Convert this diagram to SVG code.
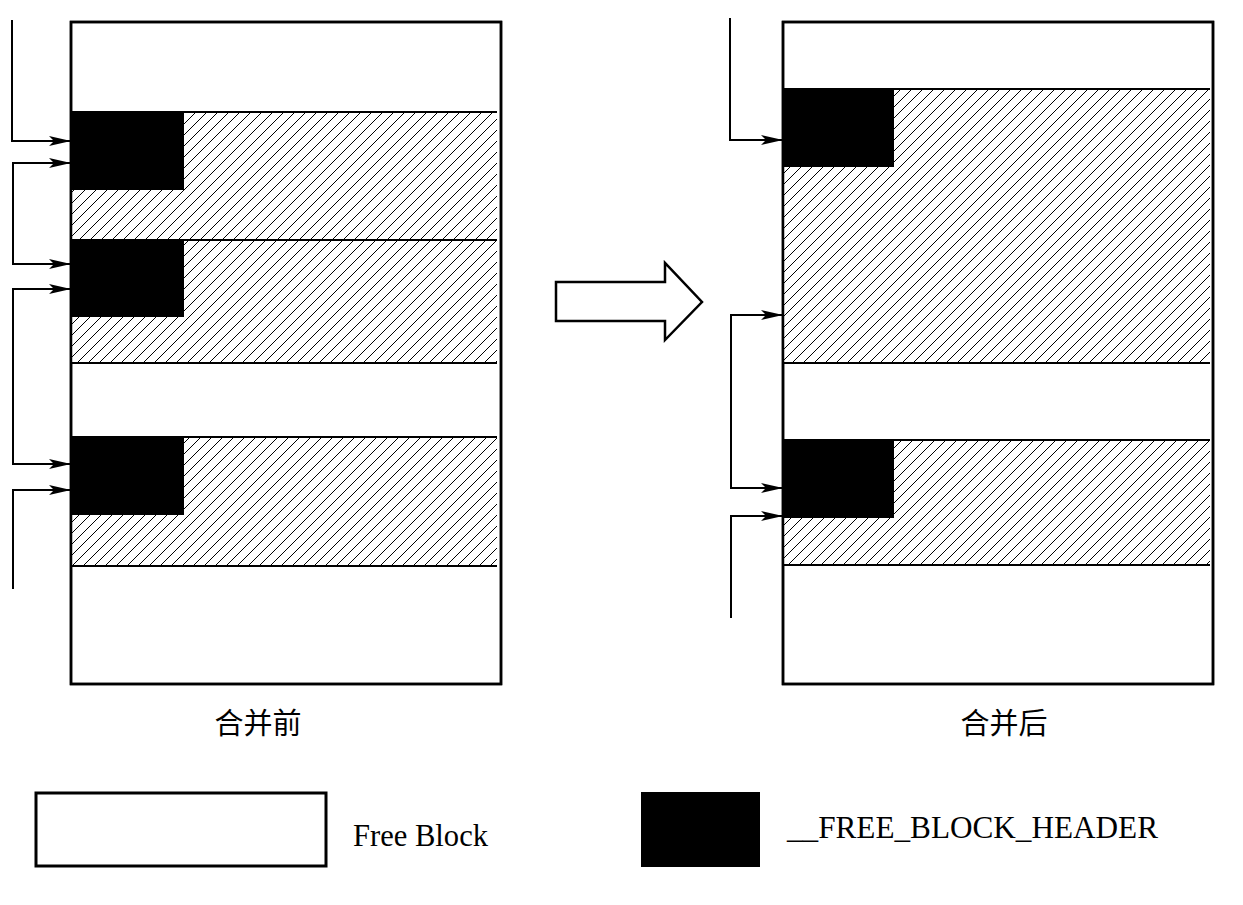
<svg xmlns="http://www.w3.org/2000/svg" width="1243" height="905" viewBox="0 0 1243 905">
<style>
.box{fill:#fff;stroke:#000;stroke-width:2.5}
.frame{fill:none;stroke:#000;stroke-width:2.5}
.hatch{fill:url(#hatch);stroke:none}
.sep{stroke:#000;stroke-width:2;fill:none}
.hdr{fill:#000}
.conn{fill:none;stroke:#000;stroke-width:2;stroke-linejoin:miter}
.cap{font-family:"Liberation Serif","Noto Sans CJK SC",serif;font-size:29px;fill:#000}
.lbl{font-family:"Liberation Serif","Noto Sans CJK SC",serif;font-size:31px;fill:#000}
</style>
<defs>
<pattern id="hatch" patternUnits="userSpaceOnUse" width="11" height="11">
<rect width="11" height="11" fill="#fff"/>
<path d="M-1,12 L12,-1 M-6,6 L6,-6 M5,17 L17,5" stroke="#000" stroke-width="1"/>
</pattern>
<marker id="ah" viewBox="0 0 22 10" refX="22" refY="5" markerWidth="22" markerHeight="10" markerUnits="userSpaceOnUse" orient="auto-start-reverse">
<path d="M0,0 L22,5 L0,10 L5,5 z" fill="#000"/>
</marker>
</defs>
<rect width="1243" height="905" fill="#fff"/>

<g id="before">
<rect class="box" x="71" y="22" width="430" height="662"/>
<rect class="hatch" x="72" y="112" width="425" height="251"/>
<rect class="hatch" x="72" y="437" width="425" height="129"/>
<g id="before-headers">
<rect class="hdr" x="71" y="112" width="113" height="78"/>
<rect class="hdr" x="71" y="240" width="113" height="77"/>
<rect class="hdr" x="71" y="437" width="113" height="78"/>
</g>
<path class="sep" d="M71,112 H497 M71,240 H497 M71,363 H497 M71,437 H497 M71,566 H497"/>
<rect class="frame" x="71" y="22" width="430" height="662"/>
<text class="cap" x="258" y="734" text-anchor="middle">合并前</text>
</g>

<g id="after">
<rect class="box" x="783" y="22" width="430" height="662"/>
<rect class="hatch" x="784" y="89" width="426" height="274"/>
<rect class="hatch" x="784" y="440" width="426" height="125"/>
<g id="after-headers">
<rect class="hdr" x="783" y="89" width="111" height="78"/>
<rect class="hdr" x="783" y="440" width="111" height="78"/>
</g>
<path class="sep" d="M783,89 H1210 M783,363 H1210 M783,440 H1210 M783,565 H1210"/>
<rect class="frame" x="783" y="22" width="430" height="662"/>
<text class="cap" x="1004" y="734" text-anchor="middle">合并后</text>
</g>

<g id="big-arrow">
<polygon points="556,282 665,282 665,263 702,302 665,340 665,321 556,321" fill="#fff" stroke="#000" stroke-width="2.5" stroke-linejoin="miter"/>
</g>

<g id="connectors">
<path class="conn" d="M12,20 V141 H71" marker-end="url(#ah)"/>
<path class="conn" d="M71,163 H13 V264 H71" marker-start="url(#ah)" marker-end="url(#ah)"/>
<path class="conn" d="M71,289 H13 V464 H71" marker-start="url(#ah)" marker-end="url(#ah)"/>
<path class="conn" d="M71,490 H13 V589" marker-start="url(#ah)"/>
<path class="conn" d="M730,18 V140 H783" marker-end="url(#ah)"/>
<path class="conn" d="M783,315 H731 V488 H783" marker-start="url(#ah)" marker-end="url(#ah)"/>
<path class="conn" d="M783,516 H731 V618" marker-start="url(#ah)"/>
</g>

<g id="legend-free">
<rect x="36" y="793" width="290" height="73" fill="#fff" stroke="#000" stroke-width="3"/>
<text class="lbl" x="353" y="846" textLength="135" lengthAdjust="spacingAndGlyphs">Free Block</text>
</g>
<g id="legend-header">
<rect x="641" y="792" width="119" height="75" fill="#000"/>
<text class="lbl" x="787" y="838" textLength="371" lengthAdjust="spacingAndGlyphs">__FREE_BLOCK_HEADER</text>
</g>
</svg>
